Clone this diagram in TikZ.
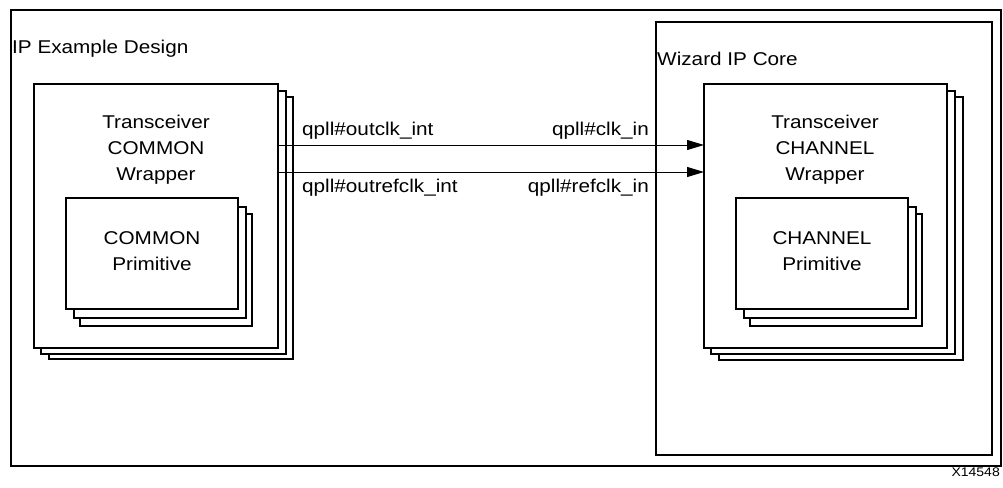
\documentclass[tikz,border=0pt]{standalone}
\usepackage{fontspec}
\setmainfont{Liberation Sans}[FakeStretch=1.12]
\usetikzlibrary{arrows.meta}
\tikzset{
  box/.style={draw=black, line width=1.8pt, fill=white, anchor=north west, inner sep=0pt, outer sep=0pt},
  lbl/.style={inner sep=0pt, font=\fontsize{18.5}{26.5}\selectfont},
  mlbl/.style={inner sep=0pt, align=center, font=\fontsize{18.5}{26}\selectfont},
  arr/.style={draw=black, line width=1pt, -{Triangle[length=17pt,width=10pt]}}
}
\newcommand{\bx}[5]{\node[box, minimum width=#4-#2, minimum height=#5-#3] (#1) at (#2,#3) {};}
\begin{document}
\begin{tikzpicture}[x=1pt,y=-1pt]
\useasboundingbox (0,0) rectangle (1003,487);
% outer boxes
\bx{outer}{11}{10}{1001}{466}
\bx{wizard}{656}{22}{992}{455}
% COMMON wrapper stack
\bx{cw3}{49}{97}{293}{359}
\bx{cw2}{41}{91}{286}{354}
\bx{cw}{34}{84}{278}{348}
% COMMON primitive stack
\bx{cp3}{80}{214}{252}{326}
\bx{cp2}{74}{207}{246}{318}
\bx{cp}{66}{198}{238}{309}
% CHANNEL wrapper stack
\bx{chw3}{719}{97}{963}{360}
\bx{chw2}{711}{91}{955}{354}
\bx{chw}{704}{84}{947}{348}
% CHANNEL primitive stack
\bx{chp3}{750}{214}{922}{326}
\bx{chp2}{744}{207}{916}{318}
\bx{chp}{736}{198}{908}{309}
% texts
\node[lbl, anchor=base west] (tip) at (12,53) {IP Example Design};
\node[lbl, anchor=base west] (twiz) at (657,66) {Wizard IP Core};
\node[mlbl] (tcw) at (156,149.5) {Transceiver\\COMMON\\Wrapper};
\node[mlbl] (tcp) at (152,251.5) {COMMON\\Primitive};
\node[mlbl] (tchw) at (825,149.5) {Transceiver\\CHANNEL\\Wrapper};
\node[mlbl] (tchp) at (822,251.5) {CHANNEL\\Primitive};
% connectors
\coordinate (s1) at (279,145);
\coordinate (s2) at (279,172);
\draw[arr] (s1) -- (chw.west |- s1);
\draw[arr] (s2) -- (chw.west |- s2);
\node[lbl, anchor=base west] (l1) at (302,135) {qpll\#outclk\_int};
\node[lbl, anchor=base east] (r1) at (649,135) {qpll\#clk\_in};
\node[lbl, anchor=base west] (l2) at (302,192) {qpll\#outrefclk\_int};
\node[lbl, anchor=base east] (r2) at (649,192) {qpll\#refclk\_in};
\node[inner sep=0pt, anchor=base east, font=\fontsize{12.5}{14}\selectfont] (fig) at (1000,476) {X14548};
\end{tikzpicture}
\end{document}
